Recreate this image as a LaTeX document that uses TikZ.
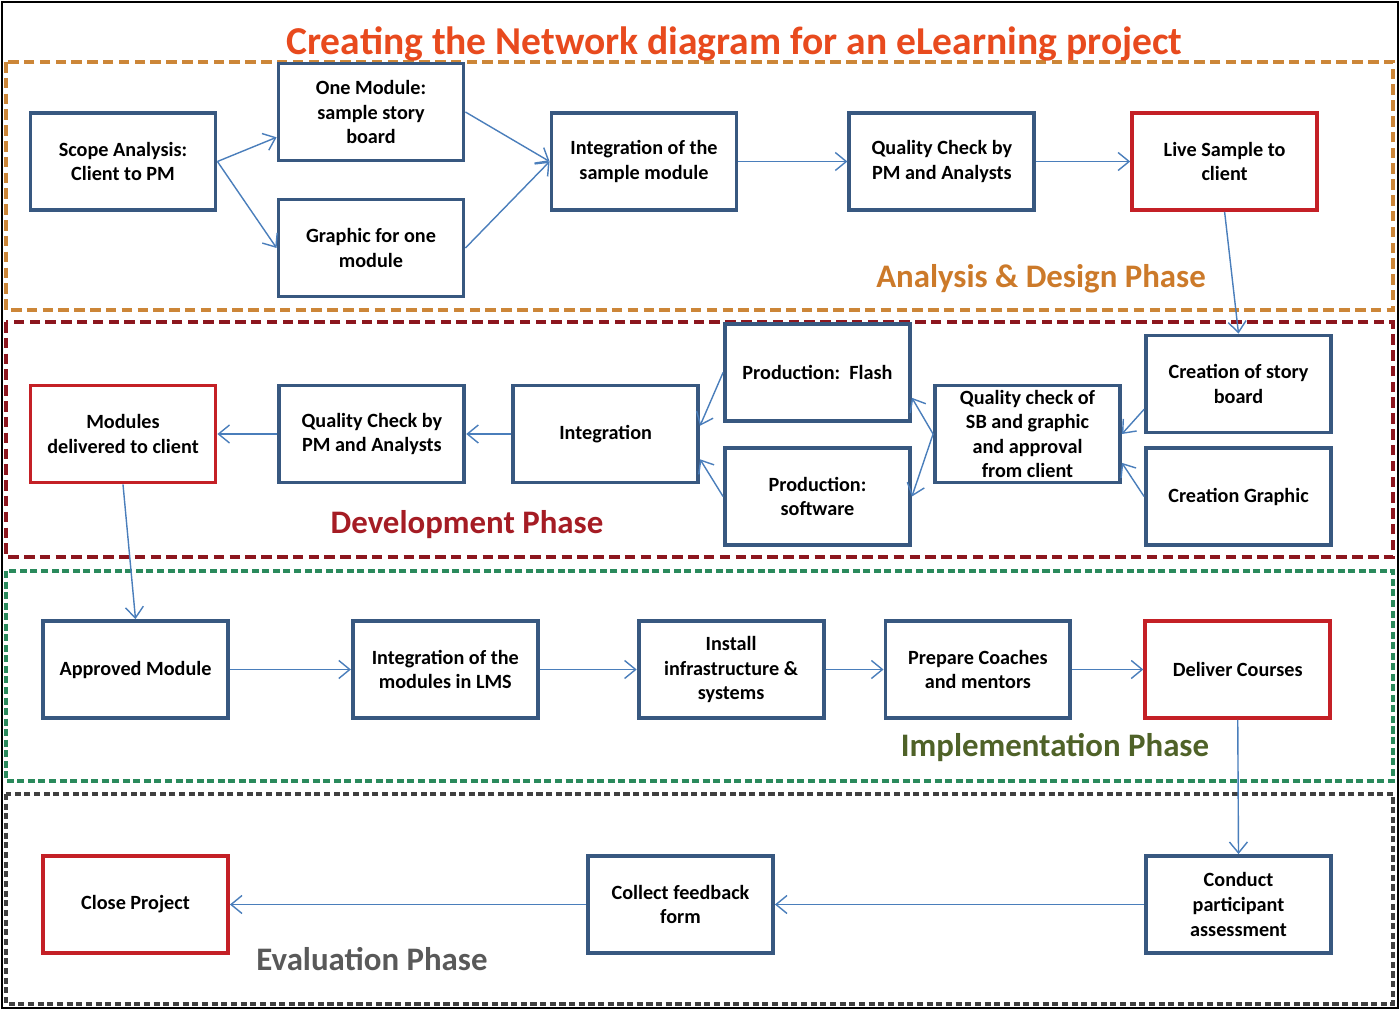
\documentclass[tikz,border=0pt]{standalone}
\usepackage{fontspec}
\setmainfont{Carlito}
\usetikzlibrary{positioning,arrows.meta}
\definecolor{BoxBlue}{RGB}{56,88,128}
\definecolor{LinkBlue}{RGB}{74,126,187}
\definecolor{BoxRed}{RGB}{196,32,38}
\definecolor{TitleRed}{RGB}{232,74,30}
\definecolor{PhaseOrange}{RGB}{204,134,56}
\definecolor{LabelOrange}{RGB}{204,122,42}
\definecolor{PhaseRed}{RGB}{140,22,30}
\definecolor{LabelRed}{RGB}{165,28,36}
\definecolor{PhaseGreen}{RGB}{42,138,92}
\definecolor{LabelGreen}{RGB}{79,98,40}
\definecolor{PhaseGrey}{RGB}{64,64,64}
\definecolor{LabelGrey}{RGB}{89,89,89}

\tikzset{
  task/.style={draw=BoxBlue, line width=2.2pt, fill=white, minimum width=3.7cm, minimum height=1.94cm,
    align=center, inner sep=1pt, font=\bfseries\fontsize{11.5}{14}\selectfont},
  milestone/.style={task, draw=BoxRed},
  link/.style={-{Straight Barb[length=2.2mm,width=3.6mm]}, LinkBlue, line width=0.8pt},
  phase/.style={line width=2.2pt, dash pattern=on 6pt off 3pt},
  phaselabel/.style={font=\bfseries\fontsize{18.7}{21}\selectfont}
}

\begin{document}
\begin{tikzpicture}[x=0.02cm, y=-0.02cm]
\useasboundingbox (0,0) rectangle (1400,1010);
\draw[line width=1.6pt] (2,2) rectangle (1398,1008);

% phase frames
\draw[phase, PhaseOrange] (6,62) rectangle (1393,310);
\draw[phase, PhaseRed] (6,322) rectangle (1393,557);
\draw[phase, PhaseGreen, dash pattern=on 4pt off 2pt] (6,571) rectangle (1393,781);
\draw[phase, PhaseGrey, dash pattern=on 3.5pt off 2pt] (6,794) rectangle (1393,1004);

\node[TitleRed, font=\bfseries\fontsize{22.5}{25}\selectfont] (title) at (734.5,44) {Creating the Network diagram for an eLearning project};
\node[phaselabel, LabelOrange] (lbldesign) at (1041,279) {Analysis \& Design Phase};
\node[phaselabel, LabelRed] (lbldev) at (467,525) {Development Phase};
\node[phaselabel, LabelGreen] (lblimpl) at (1055,748) {Implementation Phase};
\node[phaselabel, LabelGrey] (lbleval) at (372,959) {Evaluation Phase};

% analysis & design
\node[task] (scope) at (123,161.5) {Scope Analysis:\\Client to PM};
\node[task] (onemod) at (371,112) {One Module:\\sample story\\board};
\node[task] (graphic) at (371,248) {Graphic for one\\module};
\node[task] (sample) at (644,161.5) {Integration of the\\sample module};
\node[task, right=2.18cm of sample] (qcsample) {Quality Check by\\PM and Analysts};
\node[milestone, right=1.88cm of qcsample] (live) {Live Sample to\\client};

% development
\node[milestone] (delivered) at (123,434) {Modules\\delivered to client};
\node[task, right=1.2cm of delivered] (qcmodules) {Quality Check by\\PM and Analysts};
\node[task, right=0.9cm of qcmodules] (integration) {Integration};
\node[task] (flash) at (817.5,372.5) {Production:\ \ Flash};
\node[task] (software) at (817.5,496.5) {Production:\\software};
\node[task] (approval) at (1027.5,434) {Quality check of\\SB and graphic\\and approval\\from client};
\node[task] (storyboard) at (1238.5,384) {Creation of story\\board};
\node[task] (creategraphic) at (1238.5,496.5) {Creation Graphic};

% implementation
\node[task] (approved) at (135.5,669.5) {Approved Module};
\node[task, right=2.42cm of approved] (lms) {Integration of the\\modules in LMS};
\node[task, right=1.94cm of lms] (install) {Install\\infrastructure \&\\systems};
\node[task, right=1.16cm of install] (coaches) {Prepare Coaches\\and mentors};
\node[milestone, right=1.42cm of coaches] (courses) {Deliver Courses};

% evaluation
\node[milestone] (close) at (135.5,904.5) {Close Project};
\node[task] (feedback) at (680.5,904.5) {Collect feedback\\form};
\node[task] (assessment) at (1238.5,904.5) {Conduct\\participant\\assessment};

% links
\draw[link] (scope.east) -- (onemod.195);
\draw[link] (scope.east) -- (graphic.west);
\draw[link] (onemod.east) -- (sample.west);
\draw[link] (graphic.east) -- (sample.west);
\draw[link] (sample) -- (qcsample);
\draw[link] (qcsample) -- (live);
\draw[link] (live.south) -- (storyboard.north);
\draw[link] (storyboard.195) -- (approval.east);
\draw[link] (creategraphic.west) -- (approval.-17);
\draw[link] (approval.west) -- (flash.-15);
\draw[link] (approval.west) -- (software.east);
\draw[link] (flash.west) -- (integration.5);
\draw[link] (software.west) -- (integration.-15);
\draw[link] (integration) -- (qcmodules);
\draw[link] (qcmodules) -- (delivered);
\draw[link] (delivered.south) -- (approved.north);
\draw[link] (approved) -- (lms);
\draw[link] (lms) -- (install);
\draw[link] (install) -- (coaches);
\draw[link] (coaches) -- (courses);
\draw[link] (courses.south) -- (assessment.north);
\draw[link] (assessment) -- (feedback);
\draw[link] (feedback) -- (close);
\end{tikzpicture}
\end{document}
